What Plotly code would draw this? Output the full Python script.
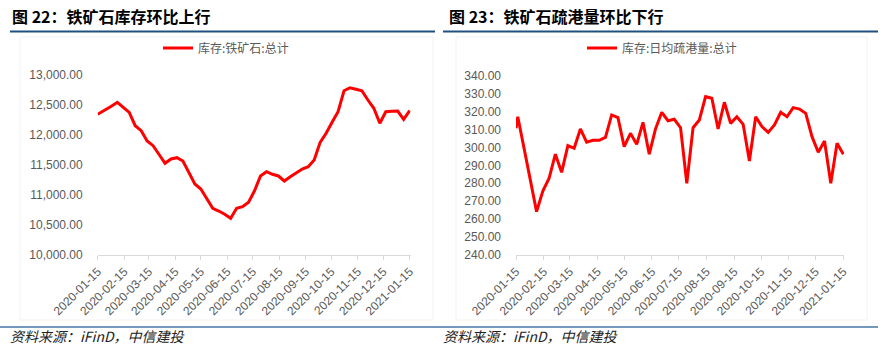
import pandas as pd
import plotly.graph_objects as go

W, H = 886, 354

# ---------------- data ----------------
weekly = [d.strftime("%Y-%m-%d") for d in pd.date_range("2020-01-17", periods=53, freq="7D")]
dates = ["2020-01-15"] + weekly

inv_name = "库存:铁矿石:总计"
inv_values = [12345,
              12360, 12420, 12480, 12545, 12460, 12378, 12155, 12072, 11900, 11822,
              11675, 11528, 11600, 11622, 11567, 11370, 11183, 11100, 10940, 10778,
              10733, 10680, 10612, 10778, 10805, 10880, 11070, 11317, 11389, 11345,
              11317, 11233, 11305, 11362, 11433, 11472, 11583, 11878, 12028, 12212,
              12388, 12738, 12788, 12763, 12738, 12583, 12445, 12195, 12388, 12395,
              12400, 12262, 12405]

port_name = "库存:日均疏港量:总计"
port_values = [310.7,
               317.1, 299.5, 281.8, 264.2, 275.7, 282.8, 296.2, 286.1, 301.0, 299.5,
               310.3, 302.9, 304.0, 304.0, 305.6, 318.1, 316.6, 300.4, 307.9, 301.7,
               314.0, 296.2, 310.3, 319.6, 314.9, 315.7, 311.0, 280.0, 311.0, 315.3,
               328.3, 327.4, 310.3, 325.2, 313.4, 317.1, 312.9, 292.4, 317.1, 311.6,
               308.4, 312.5, 319.6, 317.1, 322.2, 321.4, 319.0, 306.0, 297.3, 303.6,
               280.0, 302.3, 296.2]

tick_dates = ["2020-01-15", "2020-02-15", "2020-03-15", "2020-04-15", "2020-05-15",
              "2020-06-15", "2020-07-15", "2020-08-15", "2020-09-15", "2020-10-15",
              "2020-11-15", "2020-12-15", "2021-01-15"]

left_title = "图 22：铁矿石库存环比上行"
right_title = "图 23：铁矿石疏港量环比下行"
source_text = "资料来源：iFinD，中信建投"

inv_ticks = [10000, 10500, 11000, 11500, 12000, 12500, 13000]
port_ticks = [240, 250, 260, 270, 280, 290, 300, 310, 320, 330, 340]

# ---------------- helpers ----------------
def px(x):
    return x / W

def py(y):
    return 1 - y / H

FONT = "Liberation Sans, Arial, sans-serif"
CJK = "Noto Sans CJK SC, sans-serif"
GRAY = "#595959"
AXIS = "#d9d9d9"

fig = go.Figure()
fig.add_trace(go.Scatter(x=dates, y=inv_values, mode="lines", name=inv_name,
                         line=dict(color="#ff0000", width=3),
                         xaxis="x", yaxis="y", legend="legend"))
fig.add_trace(go.Scatter(x=dates, y=port_values, mode="lines", name=port_name,
                         line=dict(color="#ff0000", width=3),
                         xaxis="x2", yaxis="y2", legend="legend2"))

xcommon = dict(type="date", range=["2020-01-15", "2021-01-16"],
               tickmode="array", tickvals=tick_dates, ticktext=tick_dates,
               tickangle=-45, ticks="outside", ticklen=4, tickcolor=AXIS,
               showline=True, linecolor=AXIS, linewidth=1, showgrid=False,
               zeroline=False, automargin=False,
               tickfont=dict(family=FONT, size=12, color=GRAY))
ycommon = dict(showgrid=False, zeroline=False, showline=False, ticks="",
               automargin=False,
               tickfont=dict(family=FONT, size=12, color=GRAY), ticklabelstandoff=14)

fig.update_layout(
    width=W, height=H, margin=dict(l=0, r=0, t=0, b=0, autoexpand=False),
    paper_bgcolor="white", plot_bgcolor="white",
    xaxis=dict(domain=[px(97.7), px(410.5)], anchor="y", **xcommon),
    yaxis=dict(domain=[py(255), py(75)], anchor="x", range=[10000, 13000],
               tickvals=inv_ticks, tickformat=",.2f", **ycommon),
    xaxis2=dict(domain=[px(516), px(844.2)], anchor="y2", **xcommon),
    yaxis2=dict(domain=[py(255), py(75.7)], anchor="x2", range=[240, 340],
                tickvals=port_ticks, tickformat=".2f", **ycommon),
    legend=dict(orientation="h", x=px(226), xanchor="center", y=py(48), yanchor="middle",
                font=dict(family=CJK, size=12, color=GRAY), bgcolor="rgba(0,0,0,0)"),
    legend2=dict(orientation="h", x=px(662), xanchor="center", y=py(48), yanchor="middle",
                 font=dict(family=CJK, size=12, color=GRAY), bgcolor="rgba(0,0,0,0)"),
    showlegend=True,
)

shapes = []
# faint chart frames
for (x0, x1) in [(20, 433), (456, 867)]:
    shapes.append(dict(type="rect", xref="paper", yref="paper", x0=px(x0), x1=px(x1),
                       y0=py(320), y1=py(37), line=dict(color="#f2f2f2", width=1),
                       fillcolor="rgba(0,0,0,0)", layer="below"))
# title underline
for (x0, x1) in [(10, 435), (443, 878)]:
    shapes.append(dict(type="line", xref="paper", yref="paper", x0=px(x0), x1=px(x1),
                       y0=py(31.5), y1=py(31.5), line=dict(color="#1f5080", width=2)))
# bottom rule
for (x0, x1) in [(0, 443), (443, 878)]:
    shapes.append(dict(type="line", xref="paper", yref="paper", x0=px(x0), x1=px(x1),
                       y0=py(327), y1=py(327), line=dict(color="#7397bd", width=2)))
fig.update_layout(shapes=shapes)

annotations = []
for x0, t in [(10, left_title), (447, right_title)]:
    annotations.append(dict(xref="paper", yref="paper", x=px(x0), y=py(16),
                            xanchor="left", yanchor="middle", showarrow=False,
                            text="<b>" + t + "</b>",
                            font=dict(family=CJK, size=16, color="#000000")))
for x0 in [8, 441]:
    annotations.append(dict(xref="paper", yref="paper", x=px(x0), y=py(336),
                            xanchor="left", yanchor="middle", showarrow=False,
                            text="<i>" + source_text + "</i>",
                            font=dict(family=CJK, size=14, color="#222222")))
fig.update_layout(annotations=annotations)

fig.write_html("out.html")
